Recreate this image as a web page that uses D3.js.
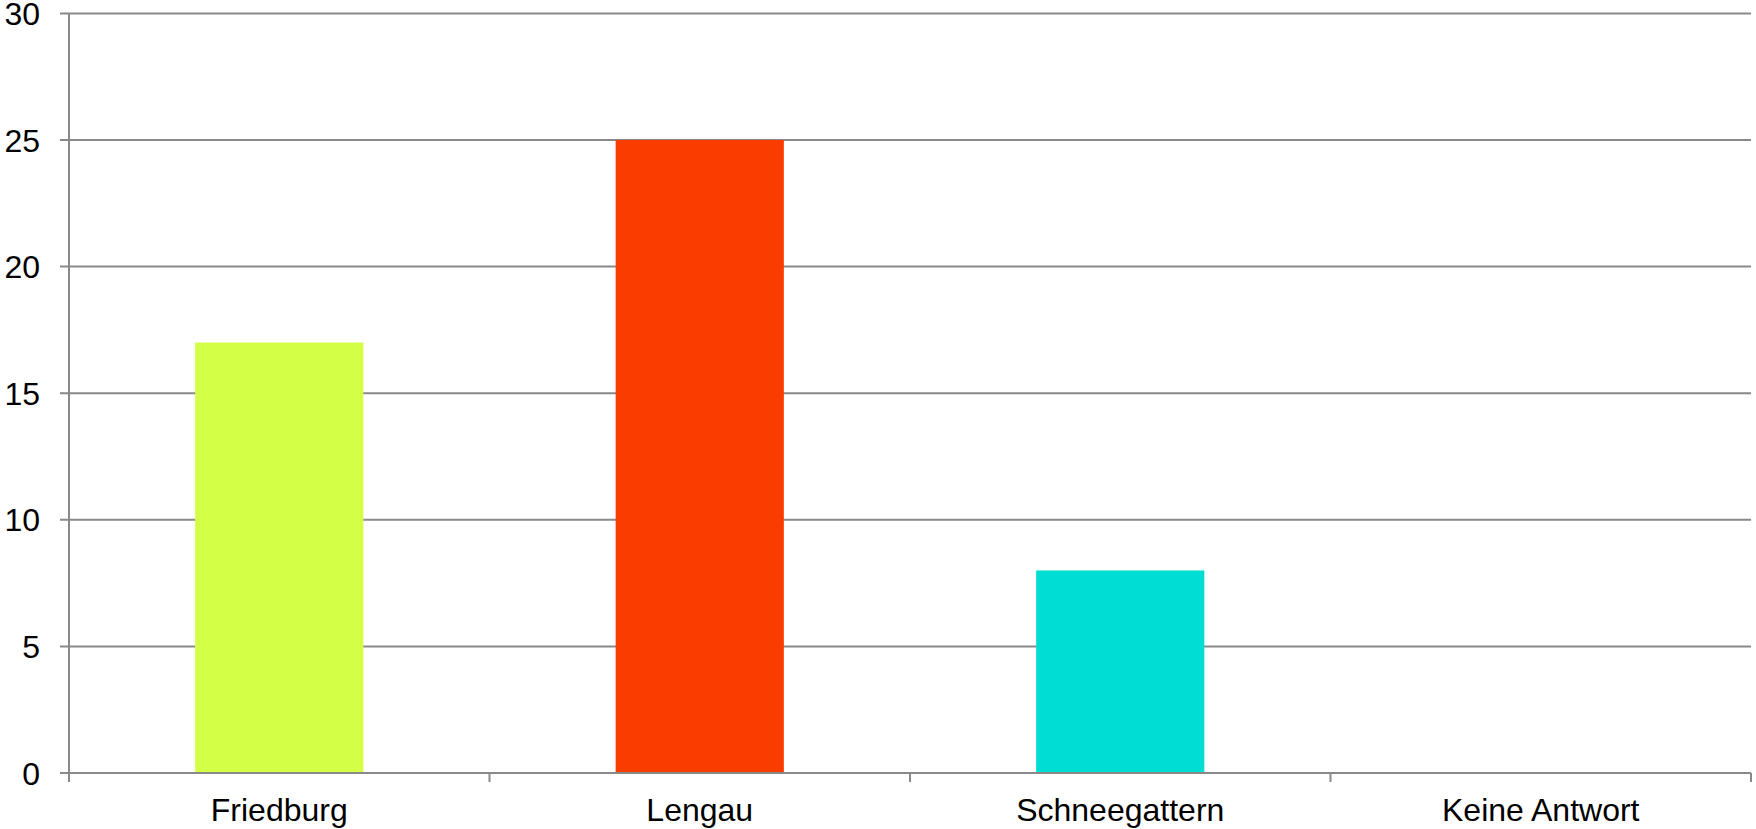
<!DOCTYPE html>
<html>
<head>
<meta charset="utf-8">
<script src="https://cdn.jsdelivr.net/npm/d3@7"></script>
<style>
  html, body { margin: 0; padding: 0; background: #fff; }
  svg { display: block; }
</style>
</head>
<body>
<script>
// data
const categories = ["Friedburg", "Lengau", "Schneegattern", "Keine Antwort"];
const values = [17, 25, 8, 0];
const barColors = ["#d4ff47", "#fa3c00", "#00ddd5", "#888888"];
const yTicks = [0, 5, 10, 15, 20, 25, 30];

const W = 1756, H = 829;
const margin = {top: 13.4, right: 5, bottom: 56, left: 69};
const width = W - margin.left - margin.right;
const height = H - margin.top - margin.bottom;

const svg = d3.select("body").append("svg")
  .attr("width", W)
  .attr("height", H);

const graph = svg.append("g")
  .attr("transform", `translate(${margin.left},${margin.top})`);

const x = d3.scaleBand()
  .domain(categories)
  .range([0, width])
  .paddingInner(0.6)
  .paddingOuter(0.3);

// band without padding, for tick marks at the boundaries
const xCell = d3.scaleBand()
  .domain(categories)
  .range([0, width]);

const y = d3.scaleLinear()
  .domain([0, 30])
  .range([height, 0]);

const gridColor = "#898989";
const font = "'Liberation Sans', Arial, sans-serif";

// horizontal gridlines + left ticks
graph.append("g")
  .selectAll("line")
  .data(yTicks)
  .enter()
  .append("line")
  .attr("x1", -9)
  .attr("x2", width)
  .attr("y1", d => y(d))
  .attr("y2", d => y(d))
  .attr("stroke", gridColor)
  .attr("stroke-width", 2);

// bars
graph.selectAll("rect.bar")
  .data(values)
  .enter()
  .append("rect")
  .attr("class", "bar")
  .attr("x", (d, i) => x(categories[i]))
  .attr("width", x.bandwidth())
  .attr("y", d => y(d))
  .attr("height", d => height - y(d))
  .attr("fill", (d, i) => barColors[i]);

// x axis line on top of the bars
graph.append("line")
  .attr("x1", 0)
  .attr("x2", width)
  .attr("y1", y(0))
  .attr("y2", y(0))
  .attr("stroke", gridColor)
  .attr("stroke-width", 2);

// y axis line
graph.append("line")
  .attr("x1", 0)
  .attr("x2", 0)
  .attr("y1", y(30))
  .attr("y2", height + 9)
  .attr("stroke", gridColor)
  .attr("stroke-width", 2);

// x tick marks at band edges
const edges = categories.map(c => xCell(c)).concat([width]);
graph.append("g")
  .selectAll("line")
  .data(edges)
  .enter()
  .append("line")
  .attr("x1", d => d)
  .attr("x2", d => d)
  .attr("y1", height)
  .attr("y2", height + 9)
  .attr("stroke", gridColor)
  .attr("stroke-width", 2);

// y labels
graph.append("g")
  .selectAll("text")
  .data(yTicks)
  .enter()
  .append("text")
  .attr("x", -29)
  .attr("y", d => y(d))
  .attr("dy", "0.36em")
  .attr("text-anchor", "end")
  .style("font-family", font)
  .style("font-size", "32px")
  .attr("fill", "#000")
  .text(d => d);

// x labels
graph.append("g")
  .selectAll("text")
  .data(categories)
  .enter()
  .append("text")
  .attr("x", d => xCell(d) + xCell.bandwidth() / 2)
  .attr("y", height + 48)
  .attr("text-anchor", "middle")
  .style("font-family", font)
  .style("font-size", "32px")
  .attr("fill", "#000")
  .text(d => d);
</script>
</body>
</html>
